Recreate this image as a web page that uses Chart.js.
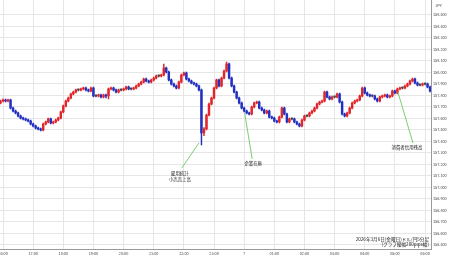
<!DOCTYPE html>
<html><head><meta charset="utf-8">
<script src="https://cdn.jsdelivr.net/npm/chart.js@4"></script>
<style>html,body{margin:0;padding:0;background:#fff;}canvas{display:block;}</style>
</head><body>
<canvas id="c" width="450" height="258"></canvas>
<script>
// USD/JPY 5-minute candles (minutes from 00:00 of the trading day; first candle 15:55)
const firstCandleMinute = 955;
const candleMinutes = 5;

const opens = [
157.735,157.752,157.761,157.752,157.761,157.691,157.665,157.648,157.622,157.604,
157.596,157.587,157.578,157.552,157.535,157.517,157.509,157.500,157.552,157.570,
157.596,157.561,157.570,157.587,157.604,157.657,157.709,157.752,157.778,157.813,
157.830,157.848,157.848,157.857,157.865,157.848,157.839,157.865,157.796,157.796,
157.804,157.787,157.804,157.796,157.857,157.865,157.848,157.830,157.848,157.848,
157.857,157.874,157.857,157.857,157.865,157.883,157.900,157.917,157.943,157.926,
157.917,157.935,157.952,157.970,157.970,157.978,158.039,158.004,157.935,157.900,
157.883,157.865,157.917,157.978,157.996,157.943,157.926,157.909,157.900,157.883,
157.848,157.474,157.509,157.630,157.726,157.778,157.865,157.935,157.883,157.952,
158.013,158.074,157.952,157.883,157.830,157.778,157.735,157.691,157.665,157.648,
157.639,157.700,157.735,157.743,157.691,157.674,157.648,157.665,157.613,157.604,
157.578,157.570,157.613,157.691,157.639,157.570,157.596,157.596,157.570,157.552,
157.535,157.587,157.622,157.622,157.648,157.665,157.691,157.726,157.743,157.752,
157.830,157.787,157.770,157.787,157.787,157.813,157.743,157.639,157.622,157.648,
157.691,157.735,157.752,157.761,157.796,157.865,157.822,157.804,157.796,157.796,
157.770,157.752,157.787,157.796,157.804,157.787,157.796,157.839,157.822,157.857,
157.865,157.865,157.883,157.900,157.926,157.943,157.909,157.891,157.891,157.900,
157.900,157.874];

const closes = [
157.752,157.761,157.752,157.761,157.691,157.665,157.648,157.622,157.604,157.596,
157.587,157.578,157.552,157.535,157.517,157.509,157.500,157.552,157.570,157.596,
157.561,157.570,157.587,157.604,157.657,157.709,157.752,157.778,157.813,157.830,
157.848,157.848,157.857,157.865,157.848,157.839,157.865,157.796,157.796,157.804,
157.787,157.804,157.796,157.857,157.865,157.848,157.830,157.848,157.848,157.857,
157.874,157.857,157.857,157.865,157.883,157.900,157.917,157.943,157.926,157.917,
157.935,157.952,157.970,157.970,157.978,158.039,158.004,157.935,157.900,157.883,
157.865,157.917,157.978,157.996,157.943,157.926,157.909,157.900,157.883,157.848,
157.474,157.509,157.630,157.726,157.778,157.865,157.935,157.883,157.952,158.013,
158.074,157.952,157.883,157.830,157.778,157.735,157.691,157.665,157.648,157.639,
157.700,157.735,157.743,157.691,157.674,157.648,157.665,157.613,157.604,157.578,
157.570,157.613,157.691,157.639,157.570,157.596,157.596,157.570,157.552,157.535,
157.587,157.622,157.622,157.648,157.665,157.691,157.726,157.743,157.752,157.830,
157.787,157.770,157.787,157.787,157.813,157.743,157.639,157.622,157.648,157.691,
157.735,157.752,157.761,157.796,157.865,157.822,157.804,157.796,157.796,157.770,
157.752,157.787,157.796,157.804,157.787,157.796,157.839,157.822,157.857,157.865,
157.865,157.883,157.900,157.926,157.943,157.909,157.891,157.891,157.900,157.900,
157.874,157.839];

const highs = [
157.760,157.770,157.769,157.769,157.768,157.699,157.673,157.656,157.630,157.612,
157.604,157.595,157.586,157.560,157.543,157.525,157.517,157.560,157.578,157.604,
157.604,157.578,157.595,157.612,157.665,157.717,157.760,157.786,157.821,157.838,
157.856,157.856,157.865,157.873,157.873,157.856,157.873,157.873,157.804,157.812,
157.812,157.812,157.812,157.865,157.873,157.873,157.856,157.856,157.856,157.865,
157.882,157.882,157.865,157.873,157.891,157.908,157.925,157.951,157.951,157.934,
157.943,157.960,157.978,157.978,157.986,158.074,158.047,158.012,157.943,157.908,
157.891,157.925,157.986,158.004,158.004,157.951,157.934,157.917,157.908,157.891,
157.856,157.520,157.638,157.734,157.786,157.873,157.943,157.943,157.960,158.021,
158.091,158.082,157.960,157.891,157.838,157.786,157.743,157.699,157.673,157.656,
157.708,157.743,157.751,157.751,157.699,157.682,157.673,157.673,157.621,157.612,
157.586,157.621,157.699,157.699,157.647,157.604,157.604,157.604,157.578,157.560,
157.595,157.630,157.630,157.656,157.673,157.699,157.734,157.751,157.760,157.838,
157.838,157.795,157.795,157.795,157.821,157.821,157.751,157.647,157.656,157.699,
157.743,157.760,157.769,157.804,157.873,157.873,157.830,157.812,157.804,157.804,
157.778,157.795,157.804,157.812,157.812,157.804,157.847,157.847,157.865,157.873,
157.873,157.891,157.908,157.934,157.951,157.951,157.917,157.899,157.908,157.908,
157.908,157.882];

const lows = [
157.727,157.744,157.744,157.745,157.683,157.657,157.640,157.614,157.596,157.588,
157.579,157.570,157.544,157.527,157.509,157.501,157.492,157.492,157.544,157.562,
157.553,157.553,157.562,157.579,157.596,157.649,157.701,157.744,157.770,157.805,
157.822,157.840,157.840,157.849,157.840,157.831,157.831,157.788,157.788,157.788,
157.779,157.779,157.780,157.770,157.849,157.840,157.822,157.822,157.840,157.840,
157.849,157.849,157.849,157.849,157.857,157.875,157.892,157.909,157.918,157.909,
157.909,157.927,157.944,157.962,157.962,157.970,157.996,157.927,157.892,157.875,
157.857,157.857,157.909,157.970,157.935,157.918,157.901,157.892,157.875,157.840,
157.370,157.450,157.501,157.622,157.718,157.770,157.857,157.875,157.875,157.944,
158.005,157.944,157.875,157.822,157.770,157.727,157.683,157.657,157.640,157.631,
157.631,157.692,157.727,157.683,157.666,157.640,157.640,157.605,157.596,157.570,
157.562,157.562,157.605,157.631,157.562,157.562,157.588,157.562,157.544,157.527,
157.527,157.579,157.614,157.614,157.640,157.657,157.683,157.718,157.735,157.744,
157.779,157.762,157.762,157.779,157.779,157.735,157.631,157.614,157.614,157.640,
157.683,157.727,157.744,157.753,157.788,157.814,157.796,157.788,157.788,157.762,
157.744,157.744,157.779,157.788,157.779,157.779,157.788,157.814,157.814,157.849,
157.857,157.857,157.875,157.892,157.918,157.901,157.883,157.883,157.883,157.892,
157.866,157.831];

// hour tick labels, 16:00 ... 06:00 (date number shown at midnight)
const hourTickLabels = ['16:00','17:00','18:00','19:00','20:00','21:00','22:00','23:00','7','01:00','02:00','03:00','04:00','05:00','06:00'];
const firstHourMinute = 960;

// event notes: text lines, leader line (top point -> end point), text centre (minute, price)
const noteTexts = [['雇用統計','小売売上高'], ['企業在庫'], ['消費者信用残高']];
const noteTopTime = [1350, 1441, 1746];
const noteTopPrice = [157.387, 157.648, 157.830];
const noteEndTime = [1316, 1456, 1776];
const noteEndPrice = [157.170, 157.248, 157.387];
const noteTextTime = [1312, 1458, 1764];
const noteTextPrice = [157.126, 157.209, 157.352];

const captionLines = ['2026年3月6日(金曜日)ドル/円5分足', '(グラフ縦幅200pips幅)'];
const unitLabel = 'JPY';

const FONT = '"Noto Sans CJK JP", "Noto Sans", sans-serif';
const UP = '#e0262b', DOWN = '#2330c0', FLAT = '#444444';
const candleTimes = opens.map((_, i) => firstCandleMinute + i * candleMinutes);
const candleColor = i => closes[i] > opens[i] ? UP : (closes[i] < opens[i] ? DOWN : FLAT);

const overlay = {
  id: 'overlay',
  afterDatasetsDraw(chart) {
    const {ctx, scales: {x, y}} = chart;
    ctx.save();
    for (let k = 0; k < noteTexts.length; k++) {
      ctx.strokeStyle = '#78cf6e';
      ctx.lineWidth = 1;
      ctx.beginPath();
      ctx.moveTo(x.getPixelForValue(noteTopTime[k]), y.getPixelForValue(noteTopPrice[k]));
      ctx.lineTo(x.getPixelForValue(noteEndTime[k]), y.getPixelForValue(noteEndPrice[k]));
      ctx.stroke();
      ctx.fillStyle = '#1a1a1a';
      ctx.font = '4.4px ' + FONT;
      ctx.textAlign = 'center';
      ctx.textBaseline = 'middle';
      noteTexts[k].forEach((t, j) => {
        ctx.fillText(t, x.getPixelForValue(noteTextTime[k]), y.getPixelForValue(noteTextPrice[k]) + j * 6);
      });
    }
    ctx.restore();
  },
  afterDraw(chart) {
    const {ctx, chartArea} = chart;
    ctx.save();
    ctx.fillStyle = '#1a1a1a';
    ctx.font = '4.6px ' + FONT;
    ctx.textAlign = 'right';
    ctx.textBaseline = 'middle';
    ctx.fillText(captionLines[0], chartArea.right - 2, chartArea.bottom - 9.5);
    ctx.fillText(captionLines[1], chartArea.right - 2, chartArea.bottom - 4.5);
    ctx.fillStyle = '#444';
    ctx.font = '3.8px ' + FONT;
    ctx.textAlign = 'center';
    ctx.fillText(unitLabel, chartArea.right + 7.5, 6);
    ctx.restore();
  }
};

new Chart(document.getElementById('c'), {
  type: 'bar',
  data: {
    datasets: [
      {
        label: 'body',
        data: closes.map((c, i) => ({x: candleTimes[i], y: [opens[i], c]})),
        backgroundColor: ctx => candleColor(ctx.dataIndex),
        barThickness: 1.8, minBarLength: 1, grouped: false, borderWidth: 0
      },
      {
        label: 'wick',
        data: highs.map((h, i) => ({x: candleTimes[i], y: [lows[i], h]})),
        backgroundColor: ctx => candleColor(ctx.dataIndex),
        barThickness: 0.8, grouped: false, borderWidth: 0
      }
    ]
  },
  options: {
    responsive: false,
    animation: false,
    events: [],
    layout: {padding: 0},
    plugins: {legend: {display: false}, tooltip: {enabled: false}},
    scales: {
      x: {
        type: 'linear', min: 954, max: 1811.9, offset: false,
        grid: {color: '#e6e6e6', drawTicks: false, offset: false},
        border: {color: '#9a9a9a'},
        ticks: {
          stepSize: 60, autoSkip: false, maxRotation: 0, padding: 2, includeBounds: false,
          font: {size: 3.8, family: FONT}, color: '#444',
          callback: v => hourTickLabels[Math.round((v - firstHourMinute) / 60)] ?? ''
        },
        afterFit: s => { s.height = 9; s.paddingLeft = 0; s.paddingRight = 0; }
      },
      y: {
        position: 'right', min: 156.4652, max: 158.6304,
        grid: {color: c => (c.tick && c.tick.value > 158.55) ? 'rgba(0,0,0,0)' : '#e6e6e6', drawTicks: false},
        border: {color: '#9a9a9a'},
        ticks: {
          stepSize: 0.1, includeBounds: false, padding: 2,
          font: {size: 3.8, family: FONT}, color: '#444',
          callback: v => v > 158.55 ? '' : Number(v).toFixed(3)
        },
        afterFit: s => { s.width = 19; s.paddingTop = 0; s.paddingBottom = 0; }
      }
    }
  },
  plugins: [overlay]
});
</script>
</body></html>
